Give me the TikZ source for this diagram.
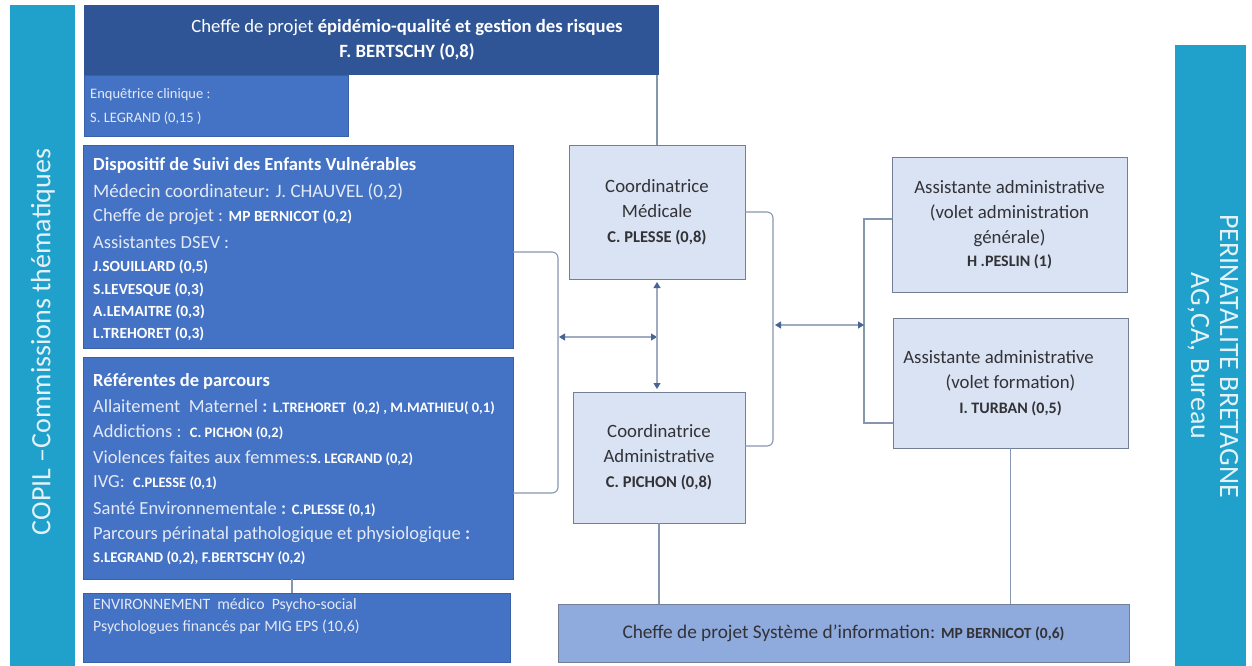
\documentclass[tikz,border=0pt]{standalone}
\usepackage{fontspec}
\setmainfont{Carlito}
\usetikzlibrary{arrows.meta}
\definecolor{tealbar}{RGB}{31,161,204}
\definecolor{headblue}{RGB}{47,85,151}
\definecolor{midblue}{RGB}{68,114,196}
\definecolor{lightbox}{RGB}{218,227,243}
\definecolor{boxborder}{RGB}{115,127,150}
\definecolor{siblue}{RGB}{143,170,220}
\definecolor{connc}{RGB}{135,150,175}
\definecolor{tipc}{RGB}{70,100,150}
\definecolor{darktext}{RGB}{50,50,55}
\definecolor{paletext}{RGB}{228,234,245}
\definecolor{tealtext}{RGB}{228,242,248}
\newcommand\setfs[2]{\fontsize{#1}{#2}\selectfont}
\newcommand\nmA[1]{{\bfseries\setfs{15.5}{18}#1}}
\newcommand\nmB[1]{{\bfseries\setfs{14.5}{17}#1}}
\begin{document}
\begin{tikzpicture}[x=1pt,y=-1pt,
  box/.style={anchor=north west, inner sep=0pt, outer sep=0pt},
  bluebox/.style={box, fill=midblue, draw=midblue!85!black, line width=0.6pt},
  lightnode/.style={box, fill=lightbox, draw=boxborder, line width=1pt, align=center, text=darktext, font=\setfs{18.8}{25}},
  ln/.style={anchor=west, inner sep=0pt, text=paletext},
  conn/.style={draw=connc, line width=1.1pt},
  dbl/.style={draw=connc!80, line width=1.1pt, {Triangle[width=7pt,length=6pt,color=tipc]}-{Triangle[width=7pt,length=6pt,color=tipc]}}
]
\useasboundingbox (0,0) rectangle (1252,666);
\fill[white] (0,0) rectangle (1252,666);

% side bars
\node[box, fill=tealbar, minimum width=65pt, minimum height=661pt] (copil) at (10,5) {};
\node[box, fill=tealbar, minimum width=71pt, minimum height=621pt] (perin) at (1175,45) {};
\node[rotate=90, text=tealtext, font=\setfs{28}{30}] (copiltxt) at (43,342) {COPIL –Commissions thématiques};
\node[rotate=-90, text=tealtext, font=\setfs{28}{29}, align=center] (perintxt) at (1213,356) {PERINATALITE BRETAGNE\\AG,CA, Bureau};

% header
\node[box, fill=headblue, minimum width=575pt, minimum height=70pt] (head) at (84,5) {};
\node[text=white, font=\setfs{18.7}{25}, align=center] (headtxt) at (407,40) {Cheffe de projet \textbf{épidémio-qualité et gestion des risques}\\\textbf{F. BERTSCHY (0,8)}};

% enquetrice
\node[bluebox, minimum width=264pt, minimum height=61pt] (enq) at (84,75) {};
\node[ln, font=\setfs{14.5}{17}] (q1) at (90,95) {Enquêtrice clinique :};
\node[ln, font=\setfs{14.5}{17}] (q2) at (90,118) {S. LEGRAND (0,15 )};

% DSEV
\node[bluebox, minimum width=430pt, minimum height=203pt] (dsev) at (83,145) {};
\node[ln, text=white, font=\bfseries\setfs{18.5}{22}] (d1) at (93,165) {Dispositif de Suivi des Enfants Vulnérables};
\node[ln, font=\setfs{19}{22}] (d2) at (93,192) {Médecin coordinateur: J. CHAUVEL (0,2)};
\node[ln, font=\setfs{18.5}{22}] (d3) at (93,217) {Cheffe de projet : {\color{white}\nmA{MP BERNICOT (0,2)}}};
\node[ln, font=\setfs{18.5}{22}] (d4) at (93,242) {Assistantes DSEV :};
\node[ln, text=white, font=\bfseries\setfs{15.5}{18}] (d5) at (93,267) {J.SOUILLARD (0,5)};
\node[ln, text=white, font=\bfseries\setfs{15.5}{18}] (d6) at (93,290) {S.LEVESQUE (0,3)};
\node[ln, text=white, font=\bfseries\setfs{15.5}{18}] (d7) at (93,312) {A.LEMAITRE (0,3)};
\node[ln, text=white, font=\bfseries\setfs{15.5}{18}] (d8) at (93,334) {L.TREHORET (0,3)};

% Referentes
\node[bluebox, minimum width=430pt, minimum height=222pt] (ref) at (83,357) {};
\node[ln, text=white, font=\bfseries\setfs{18.5}{22}] (r1) at (93,381) {Référentes de parcours};
\node[ln, font=\setfs{18.5}{22}] (r2) at (93,407) {Allaitement\ \ Maternel {\bfseries:} {\color{white}\nmB{L.TREHORET\ \ (0,2) , M.MATHIEU( 0,1)}}};
\node[ln, font=\setfs{18.5}{22}] (r3) at (93,432) {Addictions :\ \ {\color{white}\nmB{C. PICHON (0,2)}}};
\node[ln, font=\setfs{18.5}{22}] (r4) at (93,458) {Violences faites aux femmes:{\color{white}\nmB{S. LEGRAND (0,2)}}};
\node[ln, font=\setfs{18.5}{22}] (r5) at (93,483) {IVG:\ \ {\color{white}\nmB{C.PLESSE (0,1)}}};
\node[ln, font=\setfs{18.5}{22}] (r6) at (93,509) {Santé Environnementale {\bfseries:} {\color{white}\nmB{C.PLESSE (0,1)}}};
\node[ln, font=\setfs{18.5}{22}] (r7) at (93,535) {Parcours périnatal pathologique et physiologique {\bfseries:}};
\node[ln, text=white, font=\bfseries\setfs{14.8}{17}] (r8) at (93,558) {S.LEGRAND (0,2), F.BERTSCHY (0,2)};

% Environnement
\node[bluebox, minimum width=427pt, minimum height=69pt] (env) at (83,593) {};
\node[ln, font=\setfs{15.8}{18}] (e1) at (93,605) {ENVIRONNEMENT\ \ médico\ \ Psycho-social};
\node[ln, font=\setfs{15.8}{18}] (e2) at (93,627) {Psychologues financés par MIG EPS (10,6)};

% coordinatrices
\node[lightnode, minimum width=176pt, minimum height=134pt] (med) at (569,145) {Coordinatrice\\Médicale\\{\bfseries\setfs{16.5}{19}C. PLESSE (0,8)}};
\node[lightnode, minimum width=172pt, minimum height=131pt] (adm) at (573,392) {Coordinatrice\\Administrative\\{\bfseries\setfs{16.5}{19}C. PICHON (0,8)}};

% assistantes
\node[lightnode, minimum width=235pt, minimum height=135pt] (a1) at (892,157) {Assistante administrative\\(volet administration\\générale)\\[-2pt]{\bfseries\setfs{16}{19}H .PESLIN (1)}};
\node[lightnode, minimum width=235pt, minimum height=130pt] (a2) at (893,318) {Assistante administrative\hspace*{24pt}\\(volet formation)\\{\bfseries\setfs{16}{19}I. TURBAN (0,5)}};

% systeme d'information
\node[box, fill=siblue, draw=boxborder, line width=1pt, minimum width=571pt, minimum height=58pt, text=darktext, font=\setfs{19.3}{22}] (si) at (558,604) {Cheffe de projet Système d’information: {\bfseries\setfs{15.5}{18}MP BERNICOT (0,6)}};

% connectors
\draw[conn] (med.north) -- (med.north |- head.south);
\draw[conn] ([xshift=-6pt]ref.south) -- ([xshift=-6pt]ref.south |- env.north);
\draw[conn] (adm.south) -- (adm.south |- si.north);
\draw[conn] (a2.south) -- (a2.south |- si.north);

\coordinate (bl1) at (558,252);
\coordinate (bl2) at (558,493);
\draw[conn, rounded corners=6pt] (dsev.east |- bl1) -- (bl1) -- (bl2) -- (ref.east |- bl2);

\coordinate (rb2) at (773,446);
\draw[conn, rounded corners=6pt] (med.east) -- (med.east -| rb2) -- (rb2) -- (adm.east |- rb2);

\coordinate (tb1) at (864,219);
\coordinate (tb2) at (864,423);
\draw[conn] (a1.west |- tb1) -- (tb1) -- (tb2) -- (a2.west |- tb2);

\coordinate (la) at (559,337);
\draw[dbl] (la) -- (la -| med.south);
\draw[dbl] ([yshift=-3pt]med.south) -- ([yshift=3pt]med.south |- adm.north);
\coordinate (ra1) at (775,325);
\coordinate (ra2) at (864,325);
\draw[dbl] (ra1) -- (ra2);
\end{tikzpicture}
\end{document}
